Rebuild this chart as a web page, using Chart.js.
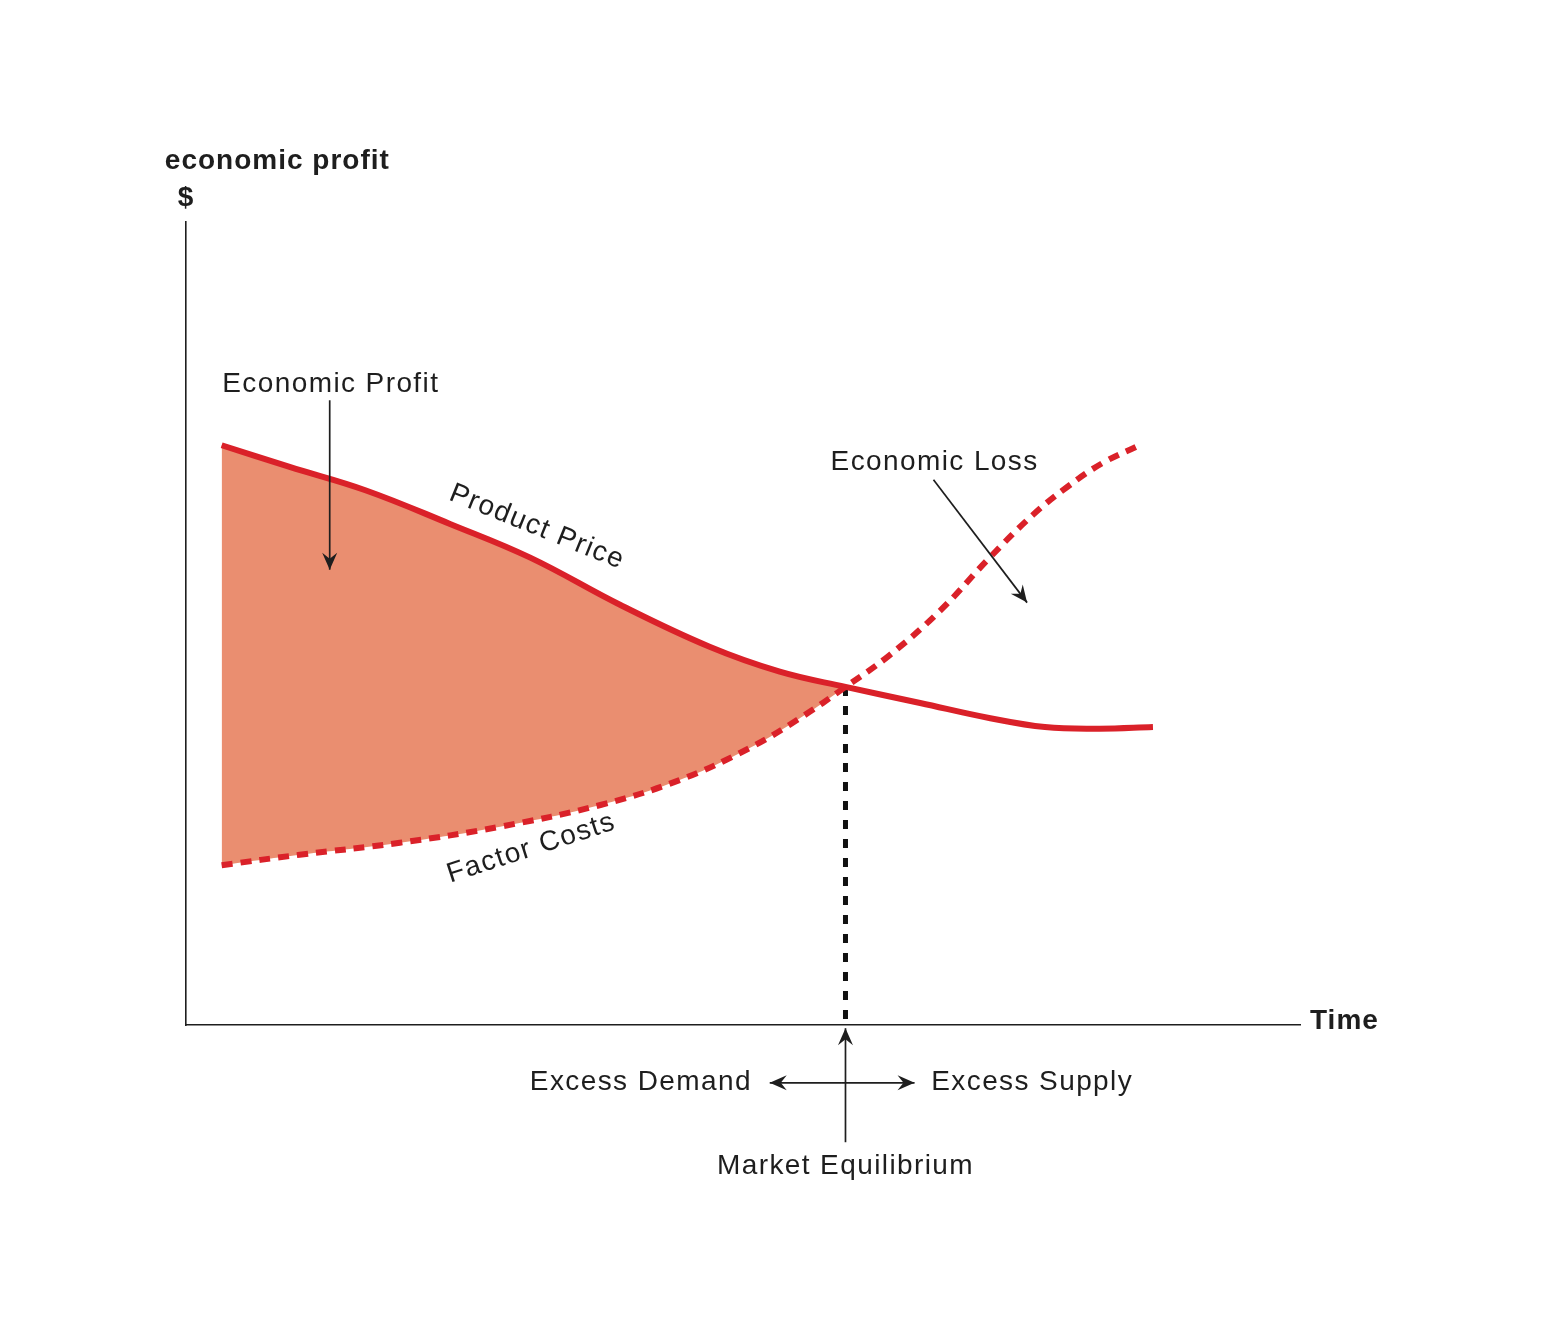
<!DOCTYPE html>
<html lang="en">
<head>
  <meta charset="UTF-8">
  <title>Economic Profit over Time</title>
  <style>
    html, body { margin: 0; padding: 0; background: #fff; }
    #wrap { width: 1567px; height: 1334px; }
  </style>
  <script src="https://cdn.jsdelivr.net/npm/chart.js"></script>
</head>
<body>
  <div id="wrap"><canvas id="chart"></canvas></div>
  <script>
    // time axis 0..100, $ axis 0..100 (no tick labels shown)
    const priceTime   = [3.2, 9.3, 16.1, 23.7, 30.9, 39.0, 47.0, 53.3, 59.2, 65.9, 72.2, 77.1, 82.0, 86.8];
    const priceValues = [72.2, 69.5, 66.6, 62.4, 58.2, 52.3, 47.1, 44.0, 42.1, 40.1, 38.2, 37.1, 36.9, 37.1];

    const costTime    = [3.2, 10.2, 19.2, 28.2, 37.2, 44.3, 50.6, 55.1, 59.2, 63.2, 67.7, 72.0, 76.0, 79.1, 82.3, 85.6];
    const costValues  = [19.9, 21.2, 22.7, 24.7, 27.4, 30.5, 34.5, 38.2, 42.1, 46.1, 51.6, 58.0, 63.5, 67.0, 70.0, 72.2];

    const eqTime = 59.2;
    const eqValue = 42.1;

    const RED = '#da2129';
    const FILL = '#ea8e70';
    const INK = '#1e1e1e';
    const FONT = '"Liberation Sans", Arial, sans-serif';

    const toXY = (xs, ys) => xs.map((x, i) => ({ x: x, y: ys[i] }));
    const upToEq = pts => pts.filter(p => p.x <= eqTime);

    const pricePts = toXY(priceTime, priceValues);
    const costPts  = toXY(costTime, costValues);

    // text and arrows, placed in chart values
    const labels = [
      { text: 'economic profit', x: -1.9, y: 107.5, align: 'left',   bold: true },
      { text: '$',               x: 0,    y: 102.9, align: 'center', bold: true },
      { text: 'Time',            x: 100.9, y: 0.5,  align: 'left',   bold: true },
      { text: 'Economic Profit', x: 13.0, y: 79.8,  align: 'center' },
      { text: 'Economic Loss',   x: 67.2, y: 70.1,  align: 'center' },
      { text: 'Product Price',   x: 31.5, y: 62.0,  align: 'center', angle: 22 },
      { text: 'Factor Costs',    x: 31.0, y: 22.0,  align: 'center', angle: -18 },
      { text: 'Excess Demand',   x: 50.8, y: -7.1,  align: 'right' },
      { text: 'Excess Supply',   x: 66.9, y: -7.1,  align: 'left' },
      { text: 'Market Equilibrium', x: eqTime, y: -17.6, align: 'center' }
    ];
    const arrows = [
      { from: [12.9, 77.8], to: [12.9, 56.7] },
      { from: [67.1, 67.9], to: [75.5, 52.6] },
      { from: [eqTime, -14.6], to: [eqTime, -0.4] },
      { from: [58.8, -7.2], to: [65.4, -7.2] },
      { from: [58.8, -7.2], to: [52.4, -7.2] }
    ];

    function head(ctx, x1, y1, x2, y2) {
      const a = Math.atan2(y2 - y1, x2 - x1);
      const L = 17, W = 7.5;
      ctx.beginPath();
      ctx.moveTo(x2, y2);
      ctx.lineTo(x2 - L * Math.cos(a) + W * Math.sin(a), y2 - L * Math.sin(a) - W * Math.cos(a));
      ctx.lineTo(x2 - L * 0.65 * Math.cos(a), y2 - L * 0.65 * Math.sin(a));
      ctx.lineTo(x2 - L * Math.cos(a) - W * Math.sin(a), y2 - L * Math.sin(a) + W * Math.cos(a));
      ctx.closePath();
      ctx.fill();
    }

    const notes = {
      id: 'notes',
      afterDraw(chart) {
        const ctx = chart.ctx;
        const sx = chart.scales.x, sy = chart.scales.y;
        const px = v => sx.getPixelForValue(v);
        const py = v => sy.getPixelForValue(v);
        ctx.save();
        ctx.fillStyle = INK;
        ctx.strokeStyle = INK;
        ctx.lineWidth = 1.7;
        arrows.forEach(a => {
          const x1 = px(a.from[0]), y1 = py(a.from[1]);
          const x2 = px(a.to[0]),   y2 = py(a.to[1]);
          ctx.beginPath();
          ctx.moveTo(x1, y1);
          ctx.lineTo(x2, y2);
          ctx.stroke();
          head(ctx, x1, y1, x2, y2);
        });
        ctx.textBaseline = 'middle';
        labels.forEach(l => {
          ctx.save();
          ctx.translate(px(l.x), py(l.y));
          if (l.angle) ctx.rotate(l.angle * Math.PI / 180);
          ctx.font = (l.bold ? 'bold ' : '') + '28px ' + FONT;
          ctx.letterSpacing = l.bold ? '1px' : '1.4px';
          ctx.textAlign = l.align;
          ctx.fillText(l.text, 0, 0);
          ctx.restore();
        });
        ctx.restore();
      }
    };

    new Chart(document.getElementById('chart'), {
      type: 'line',
      data: {
        datasets: [
          {
            label: 'Product Price',
            data: pricePts,
            borderColor: RED,
            borderWidth: 6,
            pointRadius: 0,
            tension: 0.4,
            fill: false
          },
          {
            label: 'Factor Costs',
            data: costPts,
            borderColor: RED,
            borderWidth: 6,
            borderDash: [11, 8],
            pointRadius: 0,
            tension: 0.4,
            fill: false
          },
          {
            label: 'Market Equilibrium',
            data: [{ x: eqTime, y: eqValue }, { x: eqTime, y: 0 }],
            borderColor: '#111',
            borderWidth: 5,
            borderDash: [9, 10],
            pointRadius: 0,
            fill: false
          },
          {
            label: 'profit top',
            data: upToEq(pricePts),
            borderWidth: 0,
            borderColor: 'rgba(0,0,0,0)',
            backgroundColor: FILL,
            pointRadius: 0,
            tension: 0.4,
            fill: '+1'
          },
          {
            label: 'profit bottom',
            data: upToEq(costPts),
            borderWidth: 0,
            borderColor: 'rgba(0,0,0,0)',
            pointRadius: 0,
            tension: 0.4,
            fill: false
          }
        ]
      },
      options: {
        responsive: true,
        maintainAspectRatio: false,
        animation: false,
        layout: { padding: { left: 186, right: 267, top: 222, bottom: 309 } },
        plugins: { legend: { display: false }, tooltip: { enabled: false } },
        scales: {
          x: {
            type: 'linear', min: 0, max: 100,
            grid: { display: false, drawTicks: false },
            border: { display: true, color: INK, width: 1.6 },
            ticks: { display: false },
            afterFit: s => { s.height = 0; }
          },
          y: {
            type: 'linear', min: 0, max: 100,
            grid: { display: false, drawTicks: false },
            border: { display: true, color: INK, width: 1.6 },
            ticks: { display: false },
            afterFit: s => { s.width = 0; }
          }
        }
      },
      plugins: [notes]
    });
  </script>
</body>
</html>
